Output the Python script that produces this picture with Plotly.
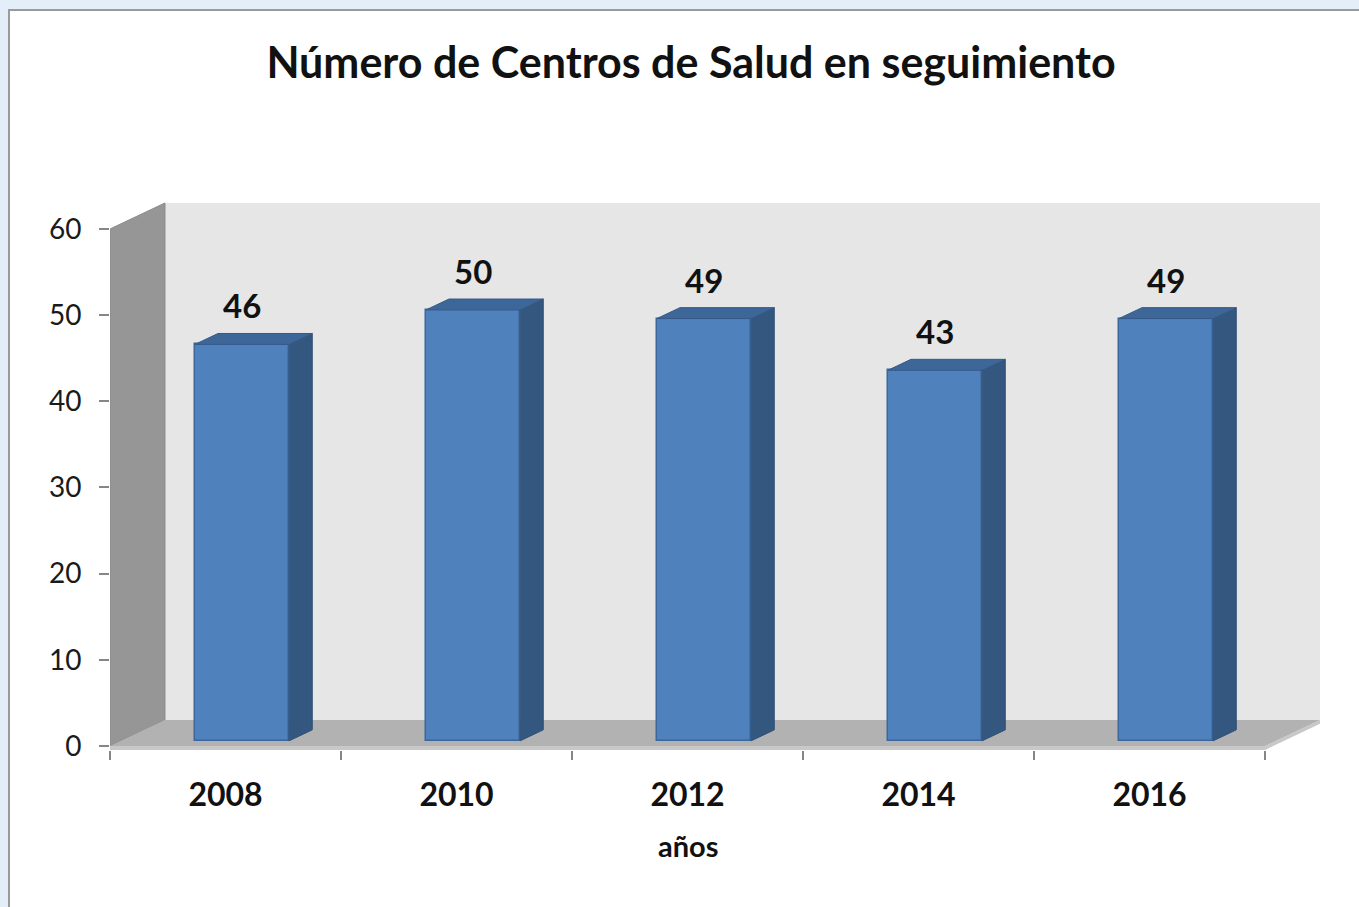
import plotly.graph_objects as go

# ---- data ----
years = ["2008", "2010", "2012", "2014", "2016"]
centros = [46, 50, 49, 43, 49]
y_ticks = [0, 10, 20, 30, 40, 50, 60]
title_text = "Número de Centros de Salud en seguimiento"
x_title = "años"

# ---- 3D look parameters (data units) ----
DX, DY = 0.238, 3.02          # full depth offset of the chart box
F1, F2 = 0.2, 0.62            # bar front/back depth fraction
HALF_W = 0.204                # half bar width
SHIFT = 0.024                 # bar shift inside category
YMAX = 60
FLOOR_T = 0.45
X0, X1 = -0.5, len(years) - 0.5

FONT = "Lato, 'Open Sans', sans-serif"

idx = list(range(len(years)))
xf = [i + SHIFT + F1 * DX for i in idx]
ddx = (F2 - F1) * DX

fig = go.Figure()

# bar front faces
fig.add_trace(go.Bar(
    x=xf, y=centros, base=F1 * DY, width=2 * HALF_W,
    marker=dict(color="#4F81BD", line=dict(color="#3B679C", width=1.5)),
    hoverinfo="skip", showlegend=False,
))

# side faces and top faces
sx, sy, tx, ty = [], [], [], []
for c, v in zip(xf, centros):
    r = c + HALF_W
    l = c - HALF_W
    sx += [r, r, r + ddx, r + ddx, r, None]
    sy += [F1 * DY, v + F1 * DY, v + F2 * DY, F2 * DY, F1 * DY, None]
    tx += [l, r, r + ddx, l + ddx, l, None]
    ty += [v + F1 * DY, v + F1 * DY, v + F2 * DY, v + F2 * DY, v + F1 * DY, None]

fig.add_trace(go.Scatter(x=sx, y=sy, mode="lines", fill="toself",
                         fillcolor="#34577F", line=dict(color="#2E4F76", width=1),
                         hoverinfo="skip", showlegend=False))
fig.add_trace(go.Scatter(x=tx, y=ty, mode="lines", fill="toself",
                         fillcolor="#3D6699", line=dict(color="#36598A", width=1),
                         hoverinfo="skip", showlegend=False))

# data labels
for c, v in zip(xf, centros):
    fig.add_annotation(x=c, y=v + F1 * DY, text=f"<b>{v}</b>", showarrow=False,
                       yanchor="bottom", yshift=17,
                       font=dict(family=FONT, size=33, color="#111111"))

# x-axis title (centred under the middle category)
fig.add_annotation(x=idx[len(idx) // 2], xref="x", y=(750 - 845) / 550, yref="paper",
                   text=f"<b>{x_title}</b>", showarrow=False, yanchor="middle",
                   font=dict(family=FONT, size=29, color="#111111"))

# walls / floor
def poly(pts):
    return "M " + " L ".join(f"{x},{y}" for x, y in pts) + " Z"

shapes = []
# white chart area
shapes.append(dict(type="rect", xref="paper", yref="paper",
                   x0=(9 - 110) / 1212, x1=(1400 - 110) / 1212,
                   y0=(750 - 940) / 550, y1=(750 - 10) / 550,
                   fillcolor="white", line=dict(color="#9a9a9a", width=2), layer="below"))
# back wall
shapes.append(dict(type="path", xref="x", yref="y", layer="below",
                   path=poly([(X0 + DX, DY), (X1 + DX, DY), (X1 + DX, YMAX + DY), (X0 + DX, YMAX + DY)]),
                   fillcolor="#E6E6E6", line=dict(width=0)))
# side wall
shapes.append(dict(type="path", xref="x", yref="y", layer="below",
                   path=poly([(X0, 0), (X0, YMAX), (X0 + DX, YMAX + DY), (X0 + DX, DY)]),
                   fillcolor="#969696", line=dict(color="#8A8A8A", width=1)))
# floor front thickness
shapes.append(dict(type="path", xref="x", yref="y", layer="below",
                   path=poly([(X0, 0), (X1, 0), (X1 + DX, DY), (X1 + DX, DY - FLOOR_T), (X1, -FLOOR_T), (X0, -FLOOR_T)]),
                   fillcolor="#C8C8C8", line=dict(width=0)))
# floor top
shapes.append(dict(type="path", xref="x", yref="y", layer="below",
                   path=poly([(X0, 0), (X0 + DX, DY), (X1 + DX, DY), (X1, 0)]),
                   fillcolor="#B2B2B2", line=dict(width=0)))
fig.update_layout(shapes=shapes)

fig.update_layout(
    width=1359, height=907,
    margin=dict(l=110, r=37, t=200, b=157),
    paper_bgcolor="#E4EEF9",
    plot_bgcolor="rgba(0,0,0,0)",
    title=dict(text=f"<b>{title_text}</b>", xref="container", yref="container",
               x=691 / 1359, y=1 - 63 / 907, xanchor="center", yanchor="middle",
               font=dict(family=FONT, size=43, color="#111111")),
    bargap=0,
    showlegend=False,
)

fig.update_xaxes(
    range=[X0, -0.5 + 1212 / 231], tickmode="array", tickvals=idx,
    ticktext=[f"<b>{y}</b>" for y in years], ticks="",
    tickfont=dict(family=FONT, size=32, color="#111111"),
    ticklabelstandoff=23,
    minor=dict(tickmode="array", tickvals=[i - 0.5 for i in range(len(years) + 1)],
               ticks="outside", ticklen=9, tickcolor="#868686", tickwidth=2, showgrid=False),
    showgrid=False, zeroline=False, showline=False,
    fixedrange=True,
)
fig.update_yaxes(
    range=[-4 / 8.617, 550 / 8.617 - 4 / 8.617], tickmode="array", tickvals=y_ticks,
    ticks="outside", ticklen=10, tickcolor="#868686", tickwidth=2,
    tickfont=dict(family=FONT, size=28, color="#1a1a1a"),
    ticklabelstandoff=12,
    showgrid=False, zeroline=False, showline=False, fixedrange=True,
)

fig.write_html("out.html", config={"displayModeBar": False},
               post_script="document.body.style.margin='0';document.body.style.overflow='hidden';")
